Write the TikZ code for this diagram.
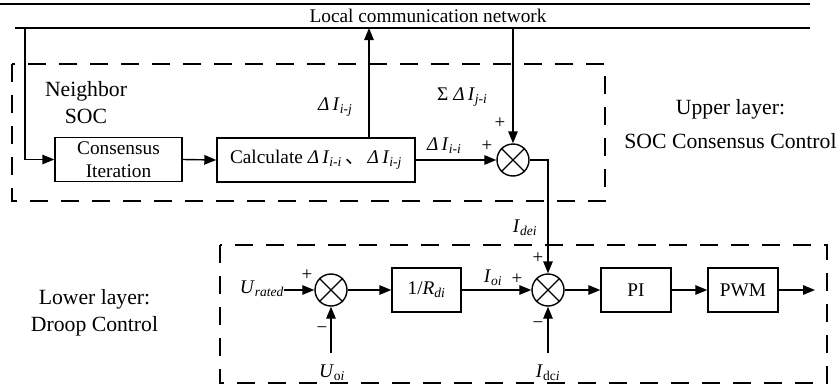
\documentclass[tikz,border=0pt]{standalone}
\usepackage{fontspec}
\setmainfont{Liberation Serif}
\newfontfamily\cjkfont{Noto Sans CJK SC}
\usetikzlibrary{arrows.meta}
\newcommand\sbs[1]{\textsubscript{#1}}
\newcommand\dI[1]{\textit{Δ\,I}\sbs{\itshape #1}}

\begin{document}
\begin{tikzpicture}[
  x=1pt, y=-1pt,
  wire/.style={line width=1.4pt},
  sig/.style={wire, -{Triangle[length=12pt,width=9.5pt]}},
  txt/.style={font=\fontsize{19.3}{23}\selectfont, inner sep=0pt},
  blk/.style={txt, draw, line width=1.4pt, minimum height=44pt, align=center},
  sumj/.style={draw, circle, line width=1.4pt, minimum size=32pt, inner sep=0pt},
  layer/.style={line width=1.3pt, dash pattern=on 18pt off 13pt},
  title/.style={font=\fontsize{21.7}{26.5}\selectfont, align=center, inner sep=0pt},
  sgn/.style={font=\fontsize{19}{21}\selectfont, inner sep=0pt},
]
\useasboundingbox (0,0) rectangle (838,388);

% communication bus
\coordinate (busA) at (0,4);
\coordinate (busB) at (810,4);
\coordinate (netA) at (15,28);
\coordinate (netB) at (810,28);
\draw[wire] (busA) -- (busB);
\draw[wire] (netA) -- (netB);
\node[txt, anchor=base] (net) at (428,22) {Local communication network};

% layer frames
\draw[layer] (12,64) rectangle (605,201);
\draw[layer] (220,245) rectangle (827,383);
\node[title, font=\fontsize{21.7}{26.3}\selectfont] (nsoc) at (86,102.5) {Neighbor\\SOC};
\node[title, font=\fontsize{21.7}{34}\selectfont] (upper) at (730.5,124) {Upper layer:\\SOC Consensus Control};
\node[title, font=\fontsize{21.7}{26.6}\selectfont] (lower) at (94.5,312.6) {Lower layer:\\Droop Control};

% upper layer blocks
\node[blk, minimum width=127pt, font=\fontsize{19.3}{23}\selectfont] (cons) at (118.5,159.5) {Consensus\\Iteration};
\node[blk, minimum width=198pt] (calc) at (316,160) {Calculate \dI{i-i}\,{\cjkfont 、}\,\dI{i-j}};
\node[sumj] (s1) at (513,160) {};

% lower layer blocks
\node[sumj] (s2) at (331,290) {};
\node[blk, minimum width=69pt] (rdi) at (426.5,290) {1/\textit{R}\sbs{\itshape di}};
\node[sumj] (s3) at (548,290) {};
\node[blk, minimum width=70pt] (pi) at (636,290) {PI};
\node[blk, minimum width=70pt] (pwm) at (743,290) {PWM};

\foreach \s in {s1,s2,s3}
  \draw[wire] (\s.north west) -- (\s.south east) (\s.north east) -- (\s.south west);

% signal labels
\node[txt, anchor=base west] (lij) at (318,110) {\dI{i-j}};
\node[txt, anchor=base west] (lsum) at (437,100) {Σ \dI{j-i}};
\node[sgn] (p1) at (500,123) {+};
\node[txt, anchor=base west] (lii) at (427,150) {\dI{i-i}};
\node[sgn] (p2) at (487,146) {+};

\node[txt, anchor=base east] (ur) at (284,293) {\textit{U}\sbs{\itshape rated}};
\node[sgn] (p3) at (307,275) {+};
\node[sgn] (m1) at (322,330) {−};
\node[txt, anchor=base] (uoi) at (332,377) {\textit{U}\sbs{o\itshape i}};
\node[txt, anchor=base] (ioi) at (493,282) {\textit{I}\sbs{\itshape oi}};
\node[sgn] (p4) at (517,279) {+};
\node[txt, anchor=base] (idei) at (525,232) {\textit{I}\sbs{\itshape dei}};
\node[sgn] (p5) at (538,258) {+};
\node[sgn] (m2) at (538,325) {−};
\node[txt, anchor=base] (idci) at (548,377) {\textit{I}\sbs{dc\itshape i}};

% connectors
\coordinate (tap) at (25,28);
\coordinate (up) at (369,28);
\coordinate (dn) at (513,28);
\coordinate (uin) at (331,353);
\coordinate (iin) at (548,353);
\coordinate (out) at (815,290);

\draw[sig] (tap) |- (cons.west);
\draw[sig] (cons.east) -- (calc.west);
\draw[sig] (calc.north -| up) -- (up);
\draw[sig] (dn) -- (s1.north);
\draw[sig] (calc.east) -- (s1.west);
\draw[sig] (s1.east) -| (s3.north);

\draw[sig] (ur.east |- s2) -- (s2.west);
\draw[sig] (uin) -- (s2.south);
\draw[sig] (s2.east) -- (rdi.west);
\draw[sig] (rdi.east) -- (s3.west);
\draw[sig] (iin) -- (s3.south);
\draw[sig] (s3.east) -- (pi.west);
\draw[sig] (pi.east) -- (pwm.west);
\draw[sig] (pwm.east) -- (out);
\end{tikzpicture}
\end{document}
